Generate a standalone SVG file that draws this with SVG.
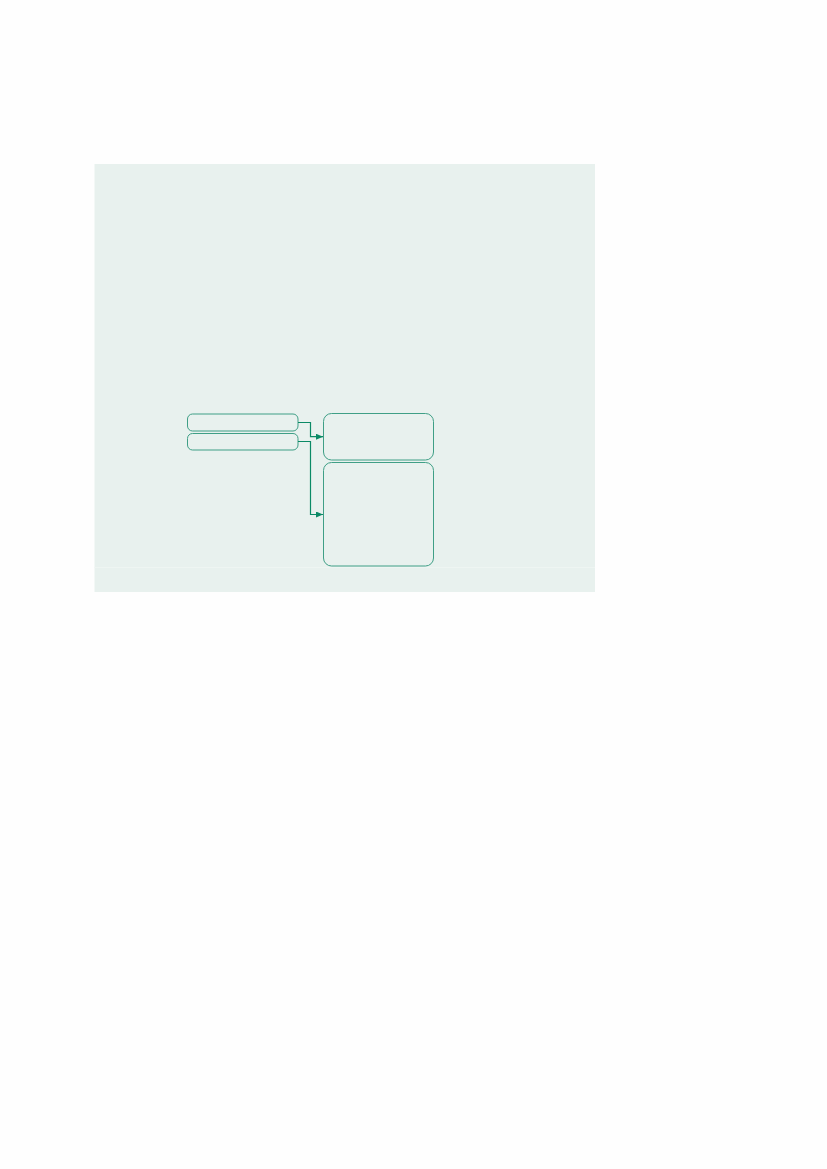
<svg xmlns="http://www.w3.org/2000/svg" width="827" height="1169" viewBox="0 0 827 1169">
<style>
.node{fill:none;stroke:#3f9f86;stroke-width:1}
.conn{fill:none;stroke:#0b8a66;stroke-width:1.2}
</style>
<defs>
<marker id="arr" markerWidth="8" markerHeight="6" refX="7" refY="3" orient="auto" markerUnits="userSpaceOnUse">
<path d="M0,0 L7,3 L0,6 z" fill="#0b8a66"/>
</marker>
</defs>
<rect width="827" height="1169" fill="#fefefe"/>
<g id="panel">
<rect x="94.5" y="164" width="500.5" height="428" fill="#e8f1ee"/>
<line x1="94.5" y1="567.5" x2="595" y2="567.5" stroke="#eef5f2" stroke-width="1"/>
</g>
<g id="node-a"><rect class="node" x="187.5" y="414" width="110.5" height="17" rx="5"/></g>
<g id="node-b"><rect class="node" x="187.5" y="433.5" width="110.5" height="16.5" rx="5"/></g>
<g id="node-c"><rect class="node" x="323.5" y="413.5" width="110" height="46.5" rx="8"/></g>
<g id="node-d"><rect class="node" x="323.5" y="462.5" width="110" height="103.5" rx="8"/></g>
<g id="connectors">
<path class="conn" d="M298,422.5 H310.5 V436.7 H323" marker-end="url(#arr)"/>
<path class="conn" d="M298,441.5 H310.5 V514.5 H323" marker-end="url(#arr)"/>
</g>
</svg>
